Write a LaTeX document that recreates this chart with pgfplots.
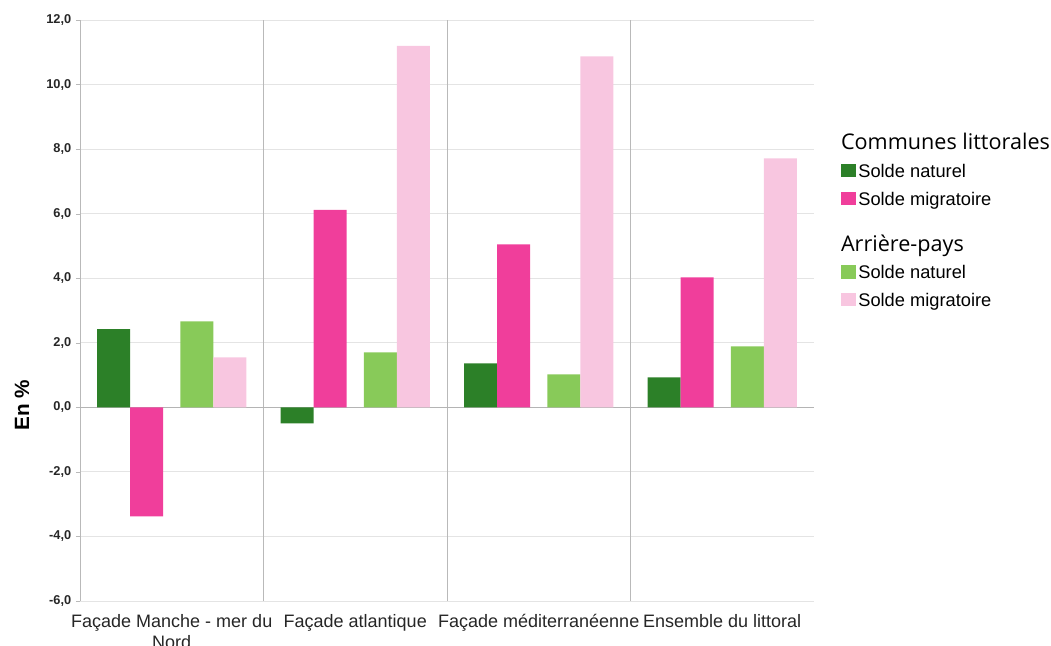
\documentclass[border=0pt]{standalone}
\usepackage{pgfplots}
\pgfplotsset{compat=1.18}
\usepackage{fontspec}
\setmainfont{Liberation Sans}
\newfontfamily\legfont{Open Sans}
\definecolor{cDG}{RGB}{44,128,40}
\definecolor{cPK}{RGB}{240,62,155}
\definecolor{cLG}{RGB}{136,202,89}
\definecolor{cLP}{RGB}{248,198,224}
\definecolor{gridc}{RGB}{228,228,228}
\definecolor{axc}{RGB}{185,185,185}
\definecolor{zeroc}{RGB}{180,180,180}
\newcommand{\rs}{\rule{0pt}{19.3pt}}
\begin{document}
\begin{tikzpicture}[x=1pt,y=1pt]
\useasboundingbox (-60,-33.75) rectangle (728.25,450.75);
\begin{axis}[
  scale only axis, width=550.5pt, height=435.75pt,
  xmin=-0.5, xmax=3.5, ymin=-6, ymax=12,
  ybar, bar width=0.18,
  axis lines*=left,
  x axis line style={draw=gridc},
  y axis line style={draw=axc},
  xtick={0,1,2,3},
  xticklabels={{Façade Manche - mer du\\Nord},{Façade atlantique},{Façade méditerranéenne},{Ensemble du littoral}},
  xticklabel style={align=center, font=\fontsize{13.5}{15.5}\selectfont, text=black!85, yshift=-3.5pt},
  x tick style={draw=none},
  extra x ticks={0.5,1.5,2.5},
  extra x tick labels={},
  extra x tick style={grid=major, major grid style={draw=axc, line width=0.6pt}, tick style={draw=none}},
  ytick={-6,-4,...,12},
  ymajorgrids,
  major grid style={draw=gridc, line width=0.6pt},
  y tick style={draw=axc},
  tick align=outside,
  major tick length=3pt,
  yticklabel style={font=\fontsize{9.6}{11}\selectfont\bfseries, text=black!85,
    /pgf/number format/.cd, fixed, fixed zerofill, precision=1, use comma, assume math mode=true},
  extra y ticks={0},
  extra y tick labels={},
  extra y tick style={grid=major, major grid style={draw=zeroc, line width=0.8pt}},
  ylabel={\textbf{En \%}},
  ylabel style={font=\fontsize{15.5}{18}\selectfont, at={(axis description cs:-0.079,0.337)}, anchor=center},
  legend style={at={(axis description cs:1.031,0.81)}, anchor=north west, draw=none, fill=none,
    font=\fontsize{13.7}{15}\selectfont, row sep=0pt, column sep=2pt,
    nodes={inner sep=0pt}},
  legend cell align=left,
  legend image code/.code={\fill[#1] (0pt,-8.7pt) rectangle (11pt,1.3pt);},
]
\addlegendimage{empty legend}
\addlegendentry{\hspace*{-13pt}{\legfont\fontsize{16.2}{18}\selectfont Communes littorales}}
\addplot[fill=cDG, draw=none, bar shift=-0.317] coordinates {(0,2.42) (1,-0.5) (2,1.36) (3,0.93)};
\addlegendentry{\rs Solde naturel}
\addplot[fill=cPK, draw=none, bar shift=-0.137] coordinates {(0,-3.38) (1,6.12) (2,5.05) (3,4.03)};
\addlegendentry{\rs Solde migratoire}
\addlegendimage{empty legend}
\addlegendentry{\hspace*{-13pt}\rule{0pt}{33pt}{\legfont\fontsize{16.2}{18}\selectfont Arrière-pays}}
\addplot[fill=cLG, draw=none, bar shift=0.137] coordinates {(0,2.66) (1,1.7) (2,1.02) (3,1.89)};
\addlegendentry{\rs Solde naturel}
\addplot[fill=cLP, draw=none, bar shift=0.317] coordinates {(0,1.55) (1,11.2) (2,10.87) (3,7.71)};
\addlegendentry{\rs Solde migratoire}
\end{axis}
\end{tikzpicture}
\end{document}
